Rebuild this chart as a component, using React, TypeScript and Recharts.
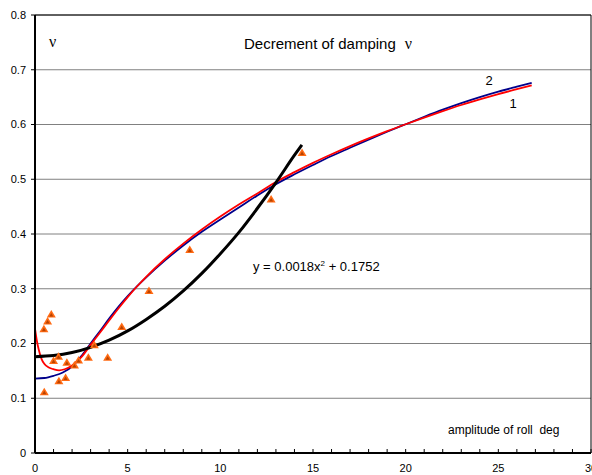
import React from 'react';
import {
  ComposedChart,
  Line,
  Scatter,
  XAxis,
  YAxis,
  CartesianGrid,
  ReferenceLine
} from 'recharts';

// measured points (triangles)
const measuredX = [0.5, 0.48, 0.68, 0.88, 1.0, 1.27, 1.29, 1.65, 1.72, 2.13, 2.35, 2.88, 3.2, 3.92, 4.68, 6.15, 8.35, 12.74, 14.41];
const measuredY = [0.111, 0.226, 0.24, 0.253, 0.168, 0.176, 0.131, 0.137, 0.165, 0.16, 0.169, 0.174, 0.197, 0.174, 0.23, 0.296, 0.371, 0.463, 0.548];

// curve 1 (red)
const curve1X = [0, 0.1, 0.2, 0.35, 0.5, 0.75, 1, 1.3, 1.6, 2, 2.5, 3, 3.5, 4, 4.5, 5, 5.5, 6, 7, 8, 9, 10, 11, 12, 13, 14, 15, 16, 17, 18, 19, 20, 21, 22, 23, 24, 25, 26, 26.8];
const curve1Y = [0.227, 0.205, 0.189, 0.172, 0.163, 0.156, 0.153, 0.151, 0.153, 0.16, 0.175, 0.1975, 0.2195, 0.242, 0.264, 0.2848, 0.3041, 0.3219, 0.3539, 0.3824, 0.4082, 0.4318, 0.4537, 0.4741, 0.495, 0.513, 0.53, 0.5457, 0.5606, 0.5746, 0.5879, 0.6005, 0.6127, 0.6244, 0.6356, 0.6458, 0.6555, 0.6645, 0.6715];

// curve 2 (blue)
const curve2X = [0, 0.5, 1, 1.5, 2, 2.5, 3, 3.5, 4, 4.5, 5, 5.5, 6, 7, 8, 9, 10, 11, 12, 13, 14, 15, 16, 17, 18, 19, 20, 21, 22, 23, 24, 25, 26, 26.8];
const curve2Y = [0.136, 0.137, 0.141, 0.147, 0.158, 0.177, 0.2, 0.2225, 0.2455, 0.267, 0.2865, 0.3043, 0.3208, 0.3513, 0.3791, 0.404, 0.4265, 0.4485, 0.4705, 0.491, 0.509, 0.526, 0.5425, 0.5575, 0.5725, 0.5868, 0.6005, 0.614, 0.627, 0.639, 0.65, 0.66, 0.669, 0.676];

// trend line y = 0.0018x^2 + 0.1752
const trendX = [0, 1, 2, 3, 4, 5, 6, 7, 8, 9, 10, 11, 12, 13, 14, 14.4];
const trendY = [0.176, 0.178, 0.1835, 0.193, 0.206, 0.223, 0.244, 0.268, 0.296, 0.328, 0.364, 0.403, 0.447, 0.494, 0.544, 0.563];

const xTicks = Array.from({ length: 31 }, (_, i) => i);
const yTicks = [0, 0.1, 0.2, 0.3, 0.4, 0.5, 0.6, 0.7, 0.8];

const zip = (xs: number[], ys: number[]) => xs.map((x, i) => ({ x, y: ys[i] }));

const measured = zip(measuredX, measuredY);
const curve1 = zip(curve1X, curve1Y);
const curve2 = zip(curve2X, curve2Y);
const trend = zip(trendX, trendY);

const FONT = '"Liberation Sans", Arial, sans-serif';
const SERIF = '"Liberation Serif", "Times New Roman", serif';

const XTick = (props: any) => {
  const { x, y, payload } = props;
  const v = payload.value;
  return (
    <g>
      <line x1={x} x2={x} y1={y} y2={y - 4} stroke="#000" strokeWidth={1} />
      {v % 5 === 0 && (
        <text x={x} y={y + 19} textAnchor="middle" fontSize={11} fontFamily={FONT} fill="#000">
          {v}
        </text>
      )}
    </g>
  );
};

const Triangle = (props: any) => {
  const { cx, cy } = props;
  if (cx == null || cy == null) return null;
  return (
    <g>
      <polygon
        points={`${cx},${cy - 4.5} ${cx - 4.5},${cy + 3} ${cx + 4.5},${cy + 3}`}
        fill="#ff6a13"
      />
      <polygon
        points={`${cx},${cy - 1.5} ${cx - 2},${cy + 2} ${cx + 2},${cy + 2}`}
        fill="#b84300"
      />
    </g>
  );
};

const App: React.FC = () => {
  return (
    <div style={{ position: 'absolute', left: 0, top: 0, width: 592, height: 475, background: '#fff' }}>
      <ComposedChart
        width={592}
        height={475}
        margin={{ top: 15, right: 1, bottom: 0, left: 0 }}
        style={{ fontFamily: FONT, overflow: 'visible' }}
      >
        <CartesianGrid vertical={false} stroke="#808080" horizontalValues={yTicks} />
        <XAxis
          type="number"
          dataKey="x"
          domain={[0, 30]}
          ticks={xTicks}
          interval={0}
          height={22}
          tickSize={0}
          tickMargin={0}
          tickLine={false}
          tick={<XTick />}
          axisLine={{ stroke: '#000', strokeWidth: 2 }}
          allowDataOverflow
        />
        <YAxis
          type="number"
          dataKey="y"
          domain={[0, 0.8]}
          ticks={yTicks}
          interval={0}
          width={35}
          tickSize={4}
          tickMargin={5}
          tickFormatter={(v: number) => (v === 0 ? '0' : v.toFixed(1))}
          tick={{ fontSize: 11, fill: '#000', fontFamily: FONT }}
          tickLine={{ stroke: '#000' }}
          axisLine={{ stroke: '#000', strokeWidth: 2 }}
          allowDataOverflow
        />
        <ReferenceLine y={0.8} stroke="#000" strokeWidth={1} />
        <ReferenceLine x={30} stroke="#000" strokeWidth={1} />
        <Scatter data={measured} dataKey="y" shape={<Triangle />} isAnimationActive={false} />
        <Line
          data={curve2}
          dataKey="y"
          type="monotone"
          stroke="#00008b"
          strokeWidth={1.8}
          dot={false}
          activeDot={false}
          isAnimationActive={false}
        />
        <Line
          data={curve1}
          dataKey="y"
          type="monotone"
          stroke="#ff0000"
          strokeWidth={1.8}
          dot={false}
          activeDot={false}
          isAnimationActive={false}
        />
        <Line
          data={trend}
          dataKey="y"
          type="monotone"
          stroke="#000"
          strokeWidth={3}
          dot={false}
          activeDot={false}
          isAnimationActive={false}
        />
      </ComposedChart>
      <svg
        width={592}
        height={475}
        style={{ position: 'absolute', left: 0, top: 0, pointerEvents: 'none' }}
      >
        <text x={49} y={47} fontSize={16} fontFamily={SERIF} fill="#000">ν</text>
        <text x={244} y={48.5} fontSize={15} fontFamily={FONT} fill="#000">
          Decrement of damping
          <tspan dx={9} fontFamily={SERIF} fontSize={16}>ν</tspan>
        </text>
        <text x={489} y={85} fontSize={13} fontFamily={FONT} fill="#000" textAnchor="middle">2</text>
        <text x={513} y={107.5} fontSize={13} fontFamily={FONT} fill="#000" textAnchor="middle">1</text>
        <text x={253} y={271} fontSize={13} fontFamily={FONT} fill="#000">
          y = 0.0018x<tspan fontSize={8} dy={-5}>2</tspan>
          <tspan dy={5}> + 0.1752</tspan>
        </text>
        <text x={448} y={434} fontSize={12} fontFamily={FONT} fill="#000" xmlSpace="preserve">
          amplitude of roll  deg
        </text>
      </svg>
    </div>
  );
};

export default App;
